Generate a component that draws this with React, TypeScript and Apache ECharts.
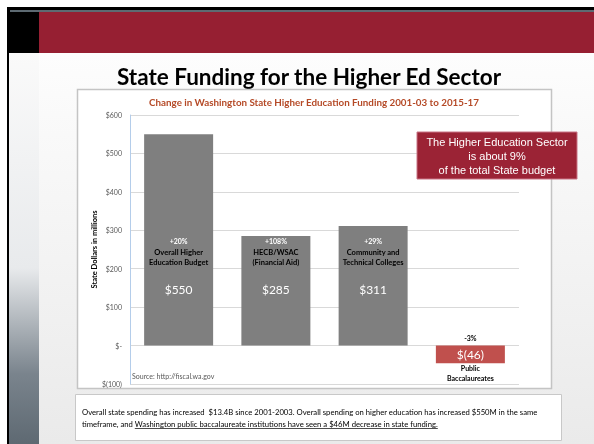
import React, { useEffect, useRef } from "react";
import * as echarts from "echarts";

const categories = [
  "Overall Higher Education Budget",
  "HECB/WSAC (Financial Aid)",
  "Community and Technical Colleges",
  "Public Baccalaureates",
];
const nameLines = [
  ["Overall Higher", "Education Budget"],
  ["HECB/WSAC", "(Financial Aid)"],
  ["Community and", "Technical Colleges"],
  ["Public", "Baccalaureates"],
];
const values = [550, 285, 311, -46];
const pctChanges = ["+20%", "+108%", "+29%", "-3%"];
const valueLabels = ["$550", "$285", "$311", "$(46)"];
const yTickLabels = ["$(100)", "$-", "$100", "$200", "$300", "$400", "$500", "$600"];
const yMin = -100;
const yMax = 600;
const yStep = 100;

const slideTitle = "State Funding for the Higher Ed Sector";
const chartTitle = "Change in Washington State Higher Education Funding 2001-03 to 2015-17";
const calloutLines = ["The Higher Education Sector", "is about 9%", "of the total State budget"];
const sourceText = "Source: http://fiscal.wa.gov";
const footerLine1 =
  "Overall state spending has increased  $13.4B since 2001-2003. Overall spending on higher education has increased $550M in the same";
const footerLine2a = "timeframe, and ";
const footerLine2b =
  "Washington public baccalaureate institutions have seen a $46M decrease in state funding.";

const GRAY = "#7f7f7f";
const RED = "#c0504d";
const MAROON = "#961f32";
const FONT = "Lato";

export default function App() {
  const ref = useRef<HTMLDivElement>(null);
  useEffect(() => {
    const chart = echarts.init(ref.current!, null, { renderer: "svg" });
    const footerFontSize = 7.7;
    const ctx = document.createElement("canvas").getContext("2d")!;
    ctx.font = `${footerFontSize}px ${FONT}`;
    const prefixW = ctx.measureText(footerLine2a).width;
    const underW = ctx.measureText(footerLine2b).width;
    const fx = 82;
    const fy1 = 412;
    const fy2 = 424;

    const mainData = values.map((v) => ({
      value: v,
      itemStyle: { color: v < 0 ? RED : GRAY },
      label: v < 0 ? { position: "inside", distance: 0 } : undefined,
    }));

    const option: any = {
      animation: false,
      backgroundColor: "transparent",
      grid: { left: 130, right: 75, top: 115, bottom: 60 },
      xAxis: {
        type: "category",
        data: categories,
        axisLine: { show: false },
        axisTick: { show: false },
        axisLabel: { show: false },
      },
      yAxis: {
        type: "value",
        min: yMin,
        max: yMax,
        interval: yStep,
        name: "State Dollars in millions",
        nameLocation: "middle",
        nameGap: 32,
        nameMoveOverlap: false,
        nameTextStyle: { fontFamily: FONT, fontSize: 7.5, fontWeight: "bold", color: "#000" },
        axisLine: { show: true, lineStyle: { color: "#b4cdea", width: 1 } },
        axisTick: { show: false },
        splitLine: { lineStyle: { color: "#d9d9d9", width: 1 } },
        axisLabel: {
          fontFamily: FONT,
          fontSize: 7,
          color: "#595959",
          margin: 8,
          formatter: (v: number) => yTickLabels[Math.round((v - yMin) / yStep)],
        },
      },
      series: [
        {
          type: "bar",
          barWidth: 69,
          barGap: "-100%",
          data: mainData,
          label: {
            show: true,
            position: "insideBottom",
            distance: 49,
            fontFamily: FONT,
            formatter: (p: any) => {
              const i = p.dataIndex;
              if (values[i] < 0) return `{val|${valueLabels[i]}}`;
              return `{pct|${pctChanges[i]}}\n{name|${nameLines[i][0]}}\n{name|${nameLines[i][1]}}\n{gap| }\n{val|${valueLabels[i]}}`;
            },
            rich: {
              pct: { color: "#fff", fontFamily: FONT, fontWeight: "bold", fontSize: 7, lineHeight: 14 },
              name: { color: "#000", fontFamily: FONT, fontWeight: "bold", fontSize: 7.5, lineHeight: 10 },
              gap: { fontSize: 7, lineHeight: 15 },
              val: { color: "#fff", fontFamily: FONT, fontSize: 12, lineHeight: 14 },
            },
          },
        },
        {
          type: "bar",
          barWidth: 69,
          barGap: "-100%",
          silent: true,
          itemStyle: { color: "transparent" },
          data: values.map((v) => ({ value: v, label: { show: v < 0 } })),
          label: {
            position: "top",
            distance: 4,
            fontFamily: FONT,
            fontSize: 7,
            fontWeight: "bold",
            color: "#000",
            formatter: (p: any) => pctChanges[p.dataIndex],
          },
        },
        {
          type: "bar",
          barWidth: 69,
          barGap: "-100%",
          silent: true,
          itemStyle: { color: "transparent" },
          data: values.map((v) => ({ value: v, label: { show: v < 0 } })),
          label: {
            position: "bottom",
            distance: 0,
            fontFamily: FONT,
            fontSize: 7,
            fontWeight: "bold",
            color: "#000",
            lineHeight: 10,
            formatter: (p: any) => nameLines[p.dataIndex].join("\n"),
          },
        },
      ],
      graphic: [
        { type: "rect", z: -10, shape: { x: 0, y: 0, width: 594, height: 444 }, style: { fill: "#ffffff" } },
        {
          type: "rect",
          z: -10,
          shape: { x: 9, y: 53, width: 585, height: 391 },
          style: {
            fill: new echarts.graphic.LinearGradient(0, 0, 0, 1, [
              { offset: 0, color: "#fdfdfd" },
              { offset: 1, color: "#eaeaea" },
            ]),
          },
        },
        {
          type: "rect",
          z: -10,
          shape: { x: 9, y: 53, width: 30, height: 391 },
          style: {
            fill: new echarts.graphic.LinearGradient(0, 0, 0, 1, [
              { offset: 0, color: "#fafafa" },
              { offset: 0.55, color: "#e8eaec" },
              { offset: 0.82, color: "#7a848d" },
              { offset: 1, color: "#5e6972" },
            ]),
          },
        },
        { type: "rect", z: -9, shape: { x: 7, y: 7, width: 587, height: 46 }, style: { fill: "#000" } },
        { type: "rect", z: -9, shape: { x: 7, y: 7, width: 2, height: 437 }, style: { fill: "#000" } },
        { type: "rect", z: -8, shape: { x: 10, y: 10, width: 584, height: 2 }, style: { fill: "#5d6a72" } },
        { type: "rect", z: -8, shape: { x: 39, y: 12, width: 555, height: 41 }, style: { fill: MAROON } },
        {
          type: "text",
          z: -5,
          x: 309,
          y: 76,
          style: {
            text: slideTitle,
            fontFamily: FONT,
            fontWeight: "bold",
            fontSize: 22.5,
            fill: "#000",
            align: "center",
            verticalAlign: "middle",
          },
        },
        {
          type: "rect",
          z: -5,
          shape: { x: 77.5, y: 89.5, width: 474, height: 299 },
          style: { fill: "#fff", stroke: "#c4c4c4", lineWidth: 1.5 },
        },
        {
          type: "text",
          z: 5,
          x: 314,
          y: 102,
          style: {
            text: chartTitle,
            fontFamily: FONT,
            fontWeight: "bold",
            fontSize: 9.8,
            fill: "#b54a27",
            align: "center",
            verticalAlign: "middle",
          },
        },
        {
          type: "text",
          z: 5,
          x: 132,
          y: 376,
          style: {
            text: sourceText,
            fontFamily: FONT,
            fontSize: 7,
            fill: "#595959",
            align: "left",
            verticalAlign: "middle",
          },
        },
        {
          type: "rect",
          z: 10,
          shape: { x: 417, y: 132, width: 160, height: 47 },
          style: { fill: "#9b2335", stroke: "#c87585", lineWidth: 1 },
        },
        {
          type: "text",
          z: 11,
          x: 497,
          y: 155.5,
          style: {
            text: calloutLines.join("\n"),
            fontFamily: "Liberation Sans",
            fontSize: 11,
            lineHeight: 14,
            fill: "#fff",
            align: "center",
            verticalAlign: "middle",
          },
        },
        {
          type: "rect",
          z: -5,
          shape: { x: 75.5, y: 394.5, width: 486, height: 46 },
          style: { fill: "#fff", stroke: "#c8c8c8", lineWidth: 1 },
        },
        {
          type: "text",
          z: 5,
          x: fx,
          y: fy1,
          style: {
            text: footerLine1,
            fontFamily: FONT,
            fontSize: footerFontSize,
            fill: "#000",
            align: "left",
            verticalAlign: "middle",
          },
        },
        {
          type: "text",
          z: 5,
          x: fx,
          y: fy2,
          style: {
            text: footerLine2a,
            fontFamily: FONT,
            fontSize: footerFontSize,
            fill: "#000",
            align: "left",
            verticalAlign: "middle",
          },
        },
        {
          type: "text",
          z: 5,
          x: fx + prefixW,
          y: fy2,
          style: {
            text: footerLine2b,
            fontFamily: FONT,
            fontSize: footerFontSize,
            fill: "#000",
            align: "left",
            verticalAlign: "middle",
          },
        },
        {
          type: "line",
          z: 5,
          shape: { x1: fx + prefixW, y1: fy2 + 4.5, x2: fx + prefixW + underW, y2: fy2 + 4.5 },
          style: { stroke: "#000", lineWidth: 0.7 },
        },
      ],
    };
    chart.setOption(option);
    return () => chart.dispose();
  }, []);
  return (
    <div
      ref={ref}
      style={{ position: "fixed", left: 0, top: 0, width: 594, height: 444 }}
    />
  );
}
